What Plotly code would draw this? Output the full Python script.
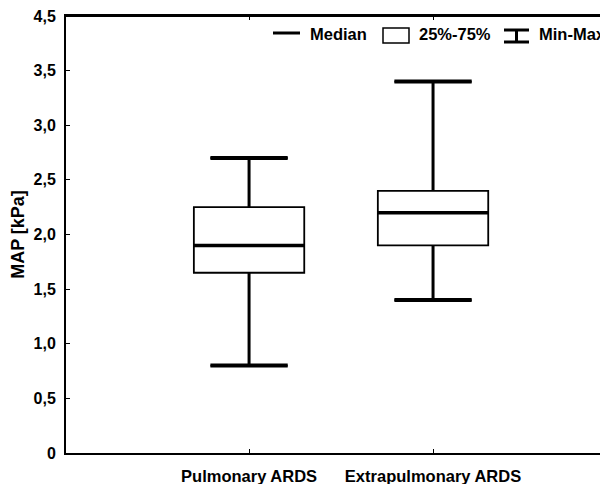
import plotly.graph_objects as go

# ---- data ----
groups = ["Pulmonary ARDS", "Extrapulmonary ARDS"]
minimum = [0.8, 1.4]
q1 = [1.65, 1.9]
median = [1.9, 2.2]
q3 = [2.25, 2.4]
maximum = [2.7, 3.4]
ytick_vals = [0, 0.5, 1.0, 1.5, 2.0, 2.5, 3.0, 3.5, 4.0]
ytick_text = ["0", "0,5", "1,0", "1,5", "2,0", "2,5", "3,0", "3,5", "4,5"]
legend_labels = ["Median", "25%-75%", "Min-Max"]

FONT = "Liberation Sans, Arial, sans-serif"
BOX_W = 0.6
CAP_W = 0.42
pos = list(range(len(groups)))

# page has an 8px body margin: work in figure coordinates (page - 8)
OFF = 8
W, H = 608 - OFF, 484 - OFF
L, R, T, B = 66 - OFF, 608 - OFF, 16 - OFF, 453 - OFF

fig = go.Figure()

for i, g in enumerate(groups):
    fig.add_trace(go.Box(
        x=[pos[i]], q1=[q1[i]], median=[median[i]], q3=[q3[i]],
        lowerfence=[minimum[i]], upperfence=[maximum[i]],
        width=BOX_W, whiskerwidth=CAP_W / BOX_W,
        fillcolor="white", line=dict(color="black", width=1.8),
        showlegend=False, hoverinfo="skip", boxpoints=False,
    ))
    fig.add_trace(go.Scatter(
        x=[pos[i], pos[i], None, pos[i], pos[i]],
        y=[q3[i], maximum[i], None, q1[i], minimum[i]],
        mode="lines", line=dict(color="black", width=3),
        showlegend=False, hoverinfo="skip"))
    fig.add_trace(go.Scatter(
        x=[pos[i] - CAP_W / 2, pos[i] + CAP_W / 2, None, pos[i] - CAP_W / 2, pos[i] + CAP_W / 2],
        y=[maximum[i], maximum[i], None, minimum[i], minimum[i]],
        mode="lines", line=dict(color="black", width=4),
        showlegend=False, hoverinfo="skip"))
    fig.add_trace(go.Scatter(
        x=[pos[i] - BOX_W / 2, pos[i] + BOX_W / 2],
        y=[median[i], median[i]],
        mode="lines", line=dict(color="black", width=3.5),
        showlegend=False, hoverinfo="skip"))

# ---- manual legend (page pixel layout -> paper coords) ----
def px(x):
    return (x - OFF - L) / (R - L)
def py(y):
    return (B - (y - OFF)) / (B - T)

shapes = [
    # top border of the plot frame
    dict(type="line", xref="paper", yref="paper", x0=0, x1=1, y0=1, y1=1,
         line=dict(color="black", width=2)),
    dict(type="line", xref="paper", yref="paper", x0=px(273), x1=px(300), y0=py(33), y1=py(33),
         line=dict(color="black", width=3)),
    dict(type="rect", xref="paper", yref="paper", x0=px(383), x1=px(409), y0=py(28), y1=py(43),
         line=dict(color="black", width=1.5), fillcolor="white"),
    dict(type="line", xref="paper", yref="paper", x0=px(504), x1=px(529), y0=py(30), y1=py(30),
         line=dict(color="black", width=3)),
    dict(type="line", xref="paper", yref="paper", x0=px(504), x1=px(529), y0=py(42), y1=py(42),
         line=dict(color="black", width=3)),
    dict(type="line", xref="paper", yref="paper", x0=px(516.5), x1=px(516.5), y0=py(30), y1=py(42),
         line=dict(color="black", width=3)),
]
annotations = []
for lbl, xl in zip(legend_labels, [308, 417, 537]):
    annotations.append(dict(text=lbl, xref="paper", yref="paper", x=px(xl), y=py(34),
                            xanchor="left", yanchor="middle", showarrow=False,
                            font=dict(family=FONT, size=16.5, color="black", weight="bold")))

fig.update_layout(
    width=W, height=H,
    margin=dict(l=L, r=W - R, t=T, b=H - B, autoexpand=False),
    paper_bgcolor="white", plot_bgcolor="white",
    font=dict(family=FONT, size=16, color="black", weight="bold"),
    shapes=shapes, annotations=annotations,
    xaxis=dict(
        range=[-0.995, 1.951], tickvals=pos, ticktext=groups,
        showline=True, linecolor="black", linewidth=2, mirror="ticks",
        ticks="inside", ticklen=4, tickcolor="black", tickwidth=1,
        showgrid=False, zeroline=False, ticklabelstandoff=7,
        ticklabeloverflow="allow",
        tickfont=dict(family=FONT, size=16.5, color="black", weight="bold"),
    ),
    yaxis=dict(
        range=[0, 4.0], tickvals=ytick_vals, ticktext=ytick_text,
        showline=True, linecolor="black", linewidth=2, mirror=False,
        ticks="inside", ticklen=4, tickcolor="black", tickwidth=1,
        showgrid=False, zeroline=False, ticklabelstandoff=5,
        ticklabeloverflow="allow",
        tickfont=dict(family=FONT, size=16, color="black", weight="bold"),
        title=dict(text="MAP [kPa]", standoff=6,
                   font=dict(family=FONT, size=18, color="black", weight="bold")),
    ),
)

fig.write_html("out.html")
